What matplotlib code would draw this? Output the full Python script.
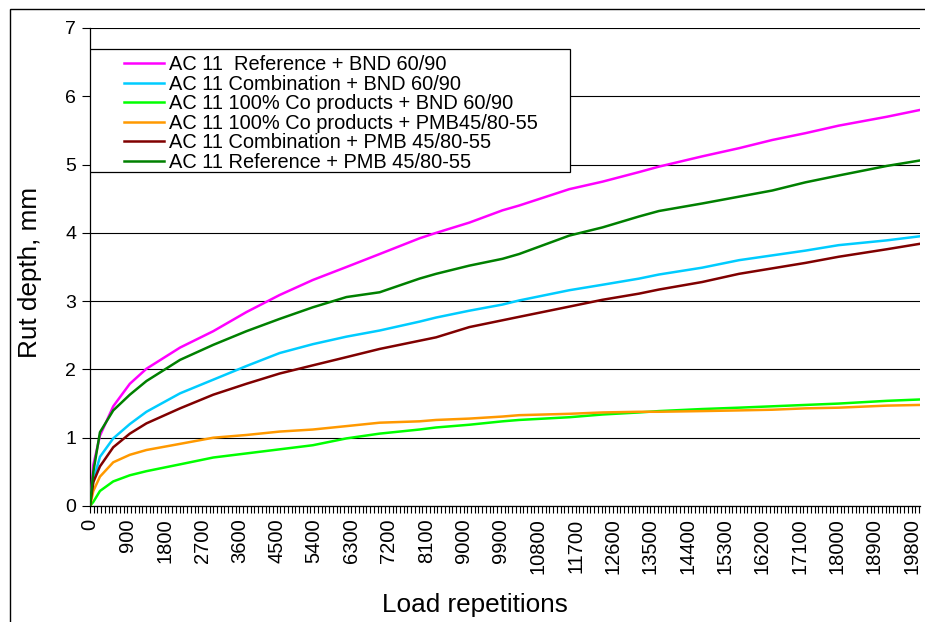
import matplotlib
matplotlib.use("Agg")
import matplotlib.pyplot as plt
from matplotlib.patches import Rectangle
import numpy as np

plt.rcParams['font.family'] = ['Liberation Sans', 'DejaVu Sans']

# load repetitions at the read-off points
reps = [0, 80, 240, 560, 960, 1360, 2170, 2970, 3770, 4570, 5370, 6180, 6980,
        7940, 8340, 9140, 9940, 10340, 11550, 12350, 13230, 13710, 14750,
        15640, 16440, 17240, 18040, 19200, 20000]

ref_bnd = [0, 0.60, 1.03, 1.46, 1.79, 2.01, 2.32, 2.56, 2.84, 3.09, 3.31, 3.50, 3.69,
           3.92, 4.00, 4.15, 4.33, 4.40, 4.64, 4.75, 4.89, 4.97, 5.12,
           5.24, 5.36, 5.46, 5.57, 5.70, 5.80]
comb_bnd = [0, 0.38, 0.72, 0.99, 1.20, 1.38, 1.65, 1.85, 2.05, 2.24, 2.37, 2.48, 2.57,
            2.70, 2.76, 2.86, 2.95, 3.01, 3.16, 3.24, 3.33, 3.39, 3.49,
            3.60, 3.67, 3.74, 3.82, 3.89, 3.95]
co_bnd = [0, 0.06, 0.22, 0.36, 0.45, 0.51, 0.61, 0.71, 0.77, 0.83, 0.89, 0.99, 1.06,
          1.12, 1.15, 1.19, 1.24, 1.26, 1.30, 1.34, 1.37, 1.39, 1.42,
          1.44, 1.46, 1.48, 1.50, 1.54, 1.56]
co_pmb = [0, 0.22, 0.43, 0.64, 0.75, 0.82, 0.91, 1.00, 1.04, 1.09, 1.12, 1.17, 1.22,
          1.24, 1.26, 1.28, 1.31, 1.33, 1.35, 1.37, 1.38, 1.38, 1.39,
          1.40, 1.41, 1.43, 1.44, 1.47, 1.48]
comb_pmb = [0, 0.35, 0.58, 0.86, 1.06, 1.21, 1.43, 1.63, 1.79, 1.94, 2.06, 2.18, 2.30,
            2.42, 2.47, 2.62, 2.72, 2.77, 2.92, 3.02, 3.11, 3.17, 3.28,
            3.40, 3.48, 3.56, 3.65, 3.76, 3.84]
ref_pmb = [0, 0.50, 1.08, 1.40, 1.63, 1.83, 2.14, 2.36, 2.56, 2.74, 2.91, 3.06, 3.13,
           3.33, 3.40, 3.52, 3.62, 3.69, 3.96, 4.08, 4.24, 4.32, 4.43,
           4.53, 4.62, 4.74, 4.84, 4.98, 5.06]

labels = ["AC 11  Reference + BND 60/90",
          "AC 11 Combination + BND 60/90",
          "AC 11 100% Co products + BND 60/90",
          "AC 11 100% Co products + PMB45/80-55",
          "AC 11 Combination + PMB 45/80-55",
          "AC 11 Reference + PMB 45/80-55"]
colors = ['#FF00FF', '#00CCFF', '#00FF00', '#FF9900', '#800000', '#008000']
series = [ref_bnd, comb_bnd, co_bnd, co_pmb, comb_pmb, ref_pmb]

fig = plt.figure(figsize=(9.25, 6.22), dpi=100)
ax = fig.add_axes([90 / 925, 1 - 506 / 622, 830 / 925, 478 / 622])

for vals, col, lab in zip(series, colors, labels):
    ax.plot(reps, vals, color=col, linewidth=1.8, label=lab, zorder=3)

ax.set_xlim(0, 20000)
ax.set_ylim(0, 7)
ax.set_yticks(range(0, 8))
ax.yaxis.grid(True, color='black', linewidth=0.8)
ax.set_axisbelow(True)

ax.set_xticks(np.arange(0, 20000, 900))
ax.set_xticks(np.arange(0, 20000, 90), minor=True)
ax.tick_params(axis='x', which='both', direction='out', length=5, width=0.8)
ax.tick_params(axis='x', which='major', labelsize=14.5, labelrotation=90, pad=4)
ax.tick_params(axis='y', direction='out', length=6, width=0.8, labelsize=14, pad=4)

for s in ['top', 'right']:
    ax.spines[s].set_visible(False)
ax.spines['left'].set_linewidth(0.9)
ax.spines['bottom'].set_linewidth(0.9)

ax.set_xlabel("Load repetitions", fontsize=18.8, va='center')
ax.xaxis.set_label_coords((475 - 90) / 830, -(605 - 506) / 478)
ax.set_ylabel("Rut depth, mm", fontsize=18.8, va='center')
ax.yaxis.set_label_coords((30 - 90) / 830, (506 - 272) / 478)

# legend frame drawn by hand to match the box
ax.add_patch(Rectangle((0, (506 - 172) / 478), 480 / 830, 123 / 478,
                       transform=ax.transAxes, facecolor='white',
                       edgecolor='black', linewidth=0.9, zorder=4))
leg = ax.legend(loc='upper left', bbox_to_anchor=(34 / 830, (506 - 55) / 478),
                frameon=False, fontsize=14.4, labelspacing=0.03,
                handlelength=2.0, handletextpad=0.26, borderpad=0, borderaxespad=0)
leg.set_zorder(5)

# outer chart border (left and top edges visible)
fig.add_artist(Rectangle((9.5 / 925, -0.1), 1.2, 0.1 + 1 - 9.5 / 622,
                         transform=fig.transFigure, fill=False,
                         edgecolor='black', linewidth=1.0))

fig.savefig("out.png", dpi=100)
